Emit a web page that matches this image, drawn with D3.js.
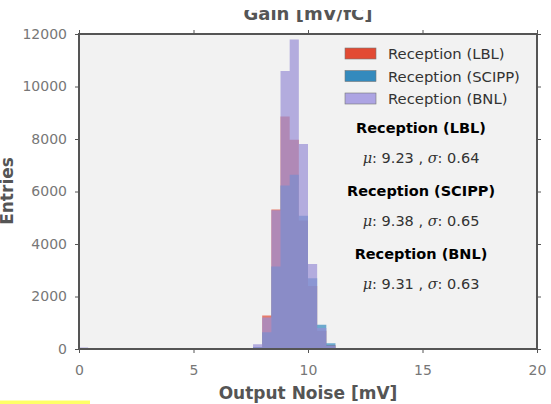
<!DOCTYPE html>
<html lang="en">
<head>
<meta charset="utf-8">
<title>Output Noise</title>
<script src="https://cdn.jsdelivr.net/npm/d3@7"></script>
<style>
  body { margin: 0; background: #fff; }
  svg text { font-family: "DejaVu Sans", sans-serif; }
</style>
</head>
<body>
<script>
// histogram bins (lower edges, width 0.4 mV) and entries per series
var binLo = [0.0, 7.6, 8.0, 8.4, 8.8, 9.2, 9.6, 10.0, 10.4, 10.8, 11.2, 11.6];
var binWidth = 0.4;
var lbl   = [30, 60, 1280, 5310, 8860, 7970, 4900, 2400, 700, 150, 10, 40];
var scipp = [40, 80, 640, 3140, 6230, 6640, 5080, 2700, 925, 220, 20, 0];
var bnl   = [60, 180, 1200, 5290, 10590, 11790, 7810, 3240, 800, 120, 10, 0];

var seriesNames = ["Reception (LBL)", "Reception (SCIPP)", "Reception (BNL)"];
var seriesColors = ["#E24A33", "#348ABD", "#988ED5"];
var legendColors = ["#E24A33", "#348ABD", "#ADA4E3"];
var statsText = [["9.23", "0.64"], ["9.38", "0.65"], ["9.31", "0.63"]];

var xTicks = [0, 5, 10, 15, 20];
var yTicks = [0, 2000, 4000, 6000, 8000, 10000, 12000];

var w = 551, h = 404;
var margin = {left: 79, right: 14, top: 34, bottom: 55};

var svg = d3.select("body").append("svg")
  .attr("width", w).attr("height", h);

var x = d3.scaleLinear().domain([0, 20]).range([margin.left, w - margin.right]);
var y = d3.scaleLinear().domain([0, 12000]).range([h - margin.bottom, margin.top]);

// plot background
svg.append("rect")
  .attr("x", x(0)).attr("y", y(12000))
  .attr("width", x(20) - x(0)).attr("height", y(0) - y(12000))
  .attr("fill", "#F2F2F2");

// histograms, one path per series so neighbouring bins have no seams
var allSeries = [lbl, scipp, bnl];
allSeries.forEach(function(vals, s) {
  var p = d3.path();
  vals.forEach(function(v, i) {
    if (v <= 0) return;
    var x0 = x(binLo[i]), x1 = x(binLo[i] + binWidth);
    p.rect(x0, y(v), x1 - x0, y(0) - y(v));
  });
  svg.append("path")
    .attr("d", p.toString())
    .attr("fill", seriesColors[s])
    .attr("fill-opacity", 0.7);
});

// axes with outward ticks on all four sides
function styleAxis(g) {
  g.select(".domain").remove();
  g.selectAll(".tick line").attr("stroke", "#555").attr("stroke-width", 1);
  g.selectAll(".tick text").attr("fill", "#777").style("font-size", "14px");
}
svg.append("g").attr("transform", "translate(0," + y(0) + ")")
  .call(d3.axisBottom(x).tickValues(xTicks).tickSize(4).tickPadding(12))
  .call(styleAxis);
svg.append("g").attr("transform", "translate(" + x(0) + ",0)")
  .call(d3.axisLeft(y).tickValues(yTicks).tickSize(4).tickPadding(8).tickFormat(d3.format("d")))
  .call(styleAxis);
svg.append("g").attr("transform", "translate(0," + y(12000) + ")")
  .call(d3.axisTop(x).tickValues(xTicks).tickSize(4).tickFormat(""))
  .call(styleAxis);
svg.append("g").attr("transform", "translate(" + x(20) + ",0)")
  .call(d3.axisRight(y).tickValues(yTicks).tickSize(4).tickFormat(""))
  .call(styleAxis);

// frame
svg.append("rect")
  .attr("x", x(0)).attr("y", y(12000))
  .attr("width", x(20) - x(0)).attr("height", y(0) - y(12000))
  .attr("fill", "none").attr("stroke", "#555").attr("stroke-width", 2);

// legend
var legend = svg.append("g").attr("transform", "translate(345,48)");
seriesNames.forEach(function(name, i) {
  legend.append("rect")
    .attr("x", 0).attr("y", i * 22.5)
    .attr("width", 31).attr("height", 11)
    .attr("fill", legendColors[i])
    .attr("stroke", "#777").attr("stroke-width", 0.6);
  legend.append("text")
    .attr("x", 43).attr("y", i * 22.5 + 11)
    .attr("fill", "#333").style("font-size", "14.8px")
    .text(name);
});

// mean / sigma annotations
statsText.forEach(function(st, i) {
  var cx = 421, base = 133 + i * 63;
  svg.append("text")
    .attr("x", cx).attr("y", base)
    .attr("text-anchor", "middle")
    .attr("fill", "#000").style("font-size", "14.5px").style("font-weight", "bold")
    .text(seriesNames[i]);
  var t = svg.append("text")
    .attr("x", cx).attr("y", base + 29.5)
    .attr("text-anchor", "middle")
    .attr("fill", "#333").style("font-size", "14.5px");
  t.append("tspan").style("font-family", "DejaVu Serif").style("font-style", "italic").text("\u03bc");
  t.append("tspan").text(": " + st[0] + " , ");
  t.append("tspan").style("font-family", "DejaVu Serif").style("font-style", "italic").text("\u03c3");
  t.append("tspan").text(": " + st[1]);
});

// axis labels
svg.append("text")
  .attr("x", (x(0) + x(20)) / 2).attr("y", 399)
  .attr("text-anchor", "middle")
  .attr("fill", "#555").style("font-size", "17px").style("font-weight", "bold")
  .text("Output Noise [mV]");

svg.append("text")
  .attr("transform", "translate(13,191) rotate(-90)")
  .attr("text-anchor", "middle")
  .attr("fill", "#555").style("font-size", "17px").style("font-weight", "bold")
  .text("Entries");

// title, cut at the top as in the picture
svg.append("clipPath").attr("id", "titleClip")
  .append("rect").attr("x", 0).attr("y", 10).attr("width", w).attr("height", 20);
svg.append("text")
  .attr("clip-path", "url(#titleClip)")
  .attr("x", 308).attr("y", 20)
  .attr("text-anchor", "middle")
  .attr("fill", "#555").style("font-size", "18px").style("font-weight", "bold")
  .text("Gain [mV/fC]");

// yellow highlight strip at the bottom left
svg.append("rect")
  .attr("x", 0).attr("y", 400.5).attr("width", 90).attr("height", 4)
  .attr("fill", "#FFFF66");
</script>
</body>
</html>
